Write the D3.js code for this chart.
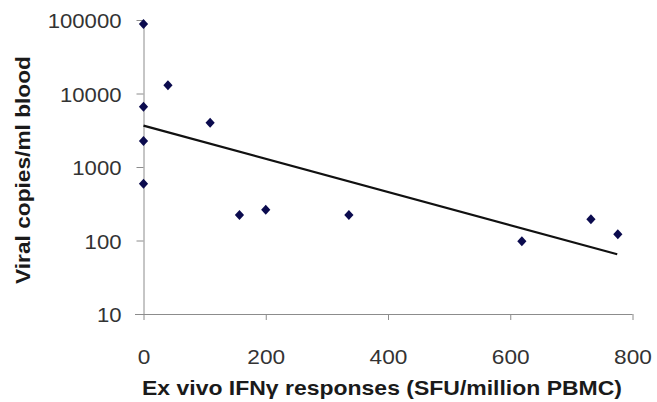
<!DOCTYPE html>
<html lang="en">
<head>
<meta charset="utf-8">
<style>
  body { margin: 0; background: #fff; }
  svg { background: #fff; }
  .axis path, .axis line { stroke: #8c8c8c; stroke-width: 1px; }
  .axis text { font-family: Arial, "Liberation Sans", sans-serif; font-size: 21px; fill: #333; }
  .title { font-family: Arial, "Liberation Sans", sans-serif; font-weight: bold; font-size: 21px; fill: #1a1a1a; }
</style>
<script src="https://d3js.org/d3.v7.min.js"></script>
</head>
<body>
<script>
var width = 657, height = 402;

// data
var ifnResponses = [0, 40, 0, 109, 0, 0, 157, 200, 336, 619, 732, 776];
var viralCopies = [88000, 12900, 6600, 4000, 2250, 590, 222, 262, 222, 98, 194, 122];
var trendX = [0, 775];
var trendY = [3650, 65];
var xTicks = [0, 200, 400, 600, 800];
var yTicks = [10, 100, 1000, 10000, 100000];

var svg = d3.select("body").append("svg")
  .attr("width", width)
  .attr("height", height);

var x = d3.scaleLinear().domain([0, 800]).range([143.5, 632.5]);
var y = d3.scaleLog().domain([10, 100000]).range([314, 20]);

// the original's text is a bit stretched sideways
function stretch(sel, perChar) {
  sel.attr("textLength", function() { return this.textContent.length * perChar; })
     .attr("lengthAdjust", "spacingAndGlyphs");
}

// x axis (extends a bit left of the y axis, like the original)
var gx = svg.append("g")
  .attr("class", "axis")
  .attr("transform", "translate(0,314)")
  .call(d3.axisBottom(x).tickValues(xTicks).tickSize(6).tickSizeOuter(0).tickPadding(29));
gx.select(".domain").attr("d", "M135,0.5H" + x(800));
gx.selectAll("text").attr("dy", "0.71em").call(stretch, 12.6);

var gy = svg.append("g")
  .attr("class", "axis")
  .attr("transform", "translate(143.5,0)")
  .call(d3.axisLeft(y).tickValues(yTicks).tickFormat(d3.format("d")).tickSize(7).tickSizeOuter(0).tickPadding(15));
gy.selectAll("text").attr("dy", "0.36em").call(stretch, 12.3);

// trend line
var line = d3.line()
  .x(function(d) { return x(d[0]); })
  .y(function(d) { return y(d[1]); });
svg.append("path")
  .datum(d3.zip(trendX, trendY))
  .attr("d", line)
  .attr("fill", "none")
  .attr("stroke", "#111")
  .attr("stroke-width", 2.2);

// points - squat diamonds
svg.selectAll(".pt")
  .data(d3.zip(ifnResponses, viralCopies))
  .enter().append("path")
  .attr("class", "pt")
  .attr("d", "M0,-5L4.6,0L0,5L-4.6,0Z")
  .attr("transform", function(d) { return "translate(" + x(d[0]) + "," + y(d[1]) + ")"; })
  .attr("fill", "#0b0b4e");

// axis titles
svg.append("text")
  .attr("class", "title")
  .attr("x", 382)
  .attr("y", 395)
  .attr("text-anchor", "middle")
  .attr("textLength", 480)
  .attr("lengthAdjust", "spacingAndGlyphs")
  .text("Ex vivo IFN\u03b3 responses (SFU/million PBMC)");

svg.append("text")
  .attr("class", "title")
  .attr("transform", "translate(30,170) rotate(-90)")
  .attr("text-anchor", "middle")
  .attr("textLength", 228)
  .attr("lengthAdjust", "spacingAndGlyphs")
  .text("Viral copies/ml blood");
</script>
</body>
</html>
